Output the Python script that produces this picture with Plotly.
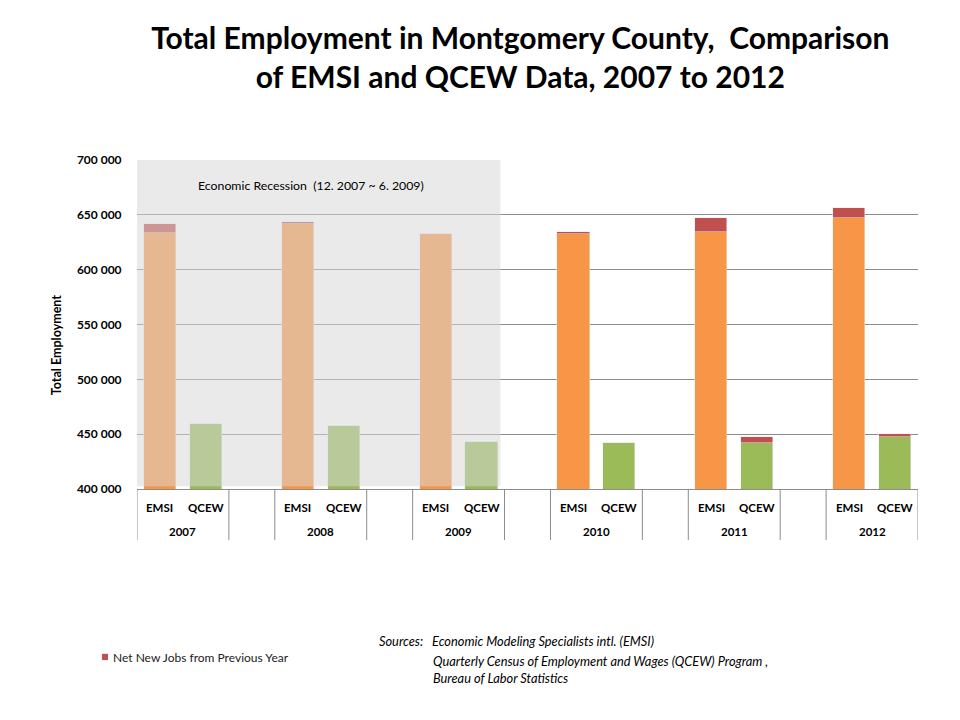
import plotly.graph_objects as go

# ---- data ----
years = ["2007", "2008", "2009", "2010", "2011", "2012"]
series_names = ["EMSI", "QCEW"]
emsi_base = [633600, 641600, 632700, 632700, 634200, 647000]
emsi_new = [8000, 1700, 0, 1500, 12800, 9200]
qcew_base = [458900, 457400, 442500, 441600, 441600, 447000]
qcew_new = [0, 0, 0, 0, 5400, 2800]
y_ticks = [400000, 450000, 500000, 550000, 600000, 650000, 700000]

FONT = "Lato"
ORANGE = "#F79646"
GREEN = "#9BBB59"
RED = "#C0504D"

# slot layout: EMSI, QCEW, blank for each year
x_emsi = [3 * i for i in range(len(years))]
x_qcew = [3 * i + 1 for i in range(len(years))]

fig = go.Figure()
fig.add_trace(go.Bar(x=x_emsi, y=emsi_base, marker_color=ORANGE, width=0.7,
                     showlegend=False, hoverinfo="skip"))
fig.add_trace(go.Bar(x=x_emsi, y=emsi_new, marker_color=RED, width=0.7,
                     showlegend=False, hoverinfo="skip"))
fig.add_trace(go.Bar(x=x_qcew, y=qcew_base, marker_color=GREEN, width=0.7,
                     showlegend=False, hoverinfo="skip"))
fig.add_trace(go.Bar(x=x_qcew, y=qcew_new, marker_color=RED, width=0.7,
                     showlegend=False, hoverinfo="skip"))

shapes = []
# recession shading overlay (drawn above bars, washes colours)
shapes.append(dict(type="rect", xref="x", yref="y", x0=-0.5, x1=7.41,
                   y0=402600, y1=700000, layer="above", line_width=0,
                   fillcolor="rgba(214,214,214,0.52)"))
# category box dividers
edges = [-0.5, 1.5, 2.5, 4.5, 5.5, 7.5, 8.5, 10.5, 11.5, 13.5, 14.5, 16.5]
for e in edges:
    shapes.append(dict(type="line", xref="x", yref="paper", x0=e, x1=e,
                       y0=0, y1=-0.155, line=dict(color="#8c8c8c", width=1)))
# legend swatch
shapes.append(dict(type="rect", xref="paper", yref="paper",
                   x0=-0.0448, x1=-0.0371, y0=-0.520, y1=-0.501,
                   fillcolor=RED, line_width=0))

lab_font = dict(family=FONT, size=11.5, color="#000", weight="bold")
annotations = []
for i, yr in enumerate(years):
    annotations.append(dict(x=x_emsi[i], y=-0.055, xref="x", yref="paper",
                            yanchor="middle", text=series_names[0],
                            showarrow=False, font=lab_font))
    annotations.append(dict(x=x_qcew[i], y=-0.055, xref="x", yref="paper",
                            yanchor="middle", text=series_names[1],
                            showarrow=False, font=lab_font))
    annotations.append(dict(x=x_emsi[i] + 0.5, y=-0.13, xref="x", yref="paper",
                            yanchor="middle", text=yr,
                            showarrow=False, font=lab_font))

annotations.append(dict(x=3.29, y=677200, xref="x", yref="y",
                        xanchor="center", yanchor="middle",
                        text="Economic Recession  (12. 2007 ~ 6. 2009)",
                        showarrow=False,
                        font=dict(family=FONT, size=12.3, color="#000")))
annotations.append(dict(x=-0.102, y=0.438, xref="paper", yref="paper",
                        xanchor="center", yanchor="middle",
                        text="<b>Total Employment</b>", textangle=-90,
                        showarrow=False,
                        font=dict(family=FONT, size=12.5, color="#000")))
annotations.append(dict(x=-0.033, y=-0.511, xref="paper", yref="paper",
                        xanchor="left", yanchor="middle",
                        text="Net New Jobs from Previous Year",
                        showarrow=False,
                        font=dict(family=FONT, size=12, color="#222")))
src_font = dict(family=FONT, size=12.8, color="#000")
annotations.append(dict(x=0.307, y=-0.462, xref="paper", yref="paper",
                        xanchor="left", yanchor="middle",
                        text="<i>Sources:   Economic Modeling Specialists intl. (EMSI)</i>",
                        showarrow=False, font=src_font))
annotations.append(dict(x=0.376, y=-0.523, xref="paper", yref="paper",
                        xanchor="left", yanchor="middle",
                        text="<i>Quarterly Census of Employment and Wages (QCEW) Program ,</i>",
                        showarrow=False, font=src_font))
annotations.append(dict(x=0.377, y=-0.574, xref="paper", yref="paper",
                        xanchor="left", yanchor="middle",
                        text="<i>Bureau of Labor Statistics</i>",
                        showarrow=False, font=src_font))

fig.update_layout(
    width=960, height=720,
    margin=dict(l=137, r=42, t=160, b=231),
    paper_bgcolor="white", plot_bgcolor="white",
    barmode="stack", bargap=0,
    separators=", ",
    title=dict(text="<b>Total Employment in Montgomery County,  Comparison<br>of EMSI and QCEW Data, 2007 to 2012</b>",
               x=0.542, xanchor="center", y=0.932, yanchor="middle",
               font=dict(family=FONT, size=30, color="#000")),
    xaxis=dict(range=[-0.5, 16.5], showticklabels=False, showgrid=False,
               zeroline=False, showline=True, linecolor="#8c8c8c", linewidth=1,
               ticks=""),
    yaxis=dict(range=[400000, 700000], tickvals=y_ticks, tickformat=",d",
               showgrid=True, gridcolor="#8c8c8c", gridwidth=1,
               zeroline=False, showline=False,
               ticks="outside", ticklen=12, tickcolor="rgba(0,0,0,0)",
               tickfont=dict(family=FONT, size=12, color="#000", weight="bold")),
    shapes=shapes,
    annotations=annotations,
    showlegend=False,
)

fig.write_html("out.html", config={"displayModeBar": False},
               post_script="document.body.style.margin='0';")
